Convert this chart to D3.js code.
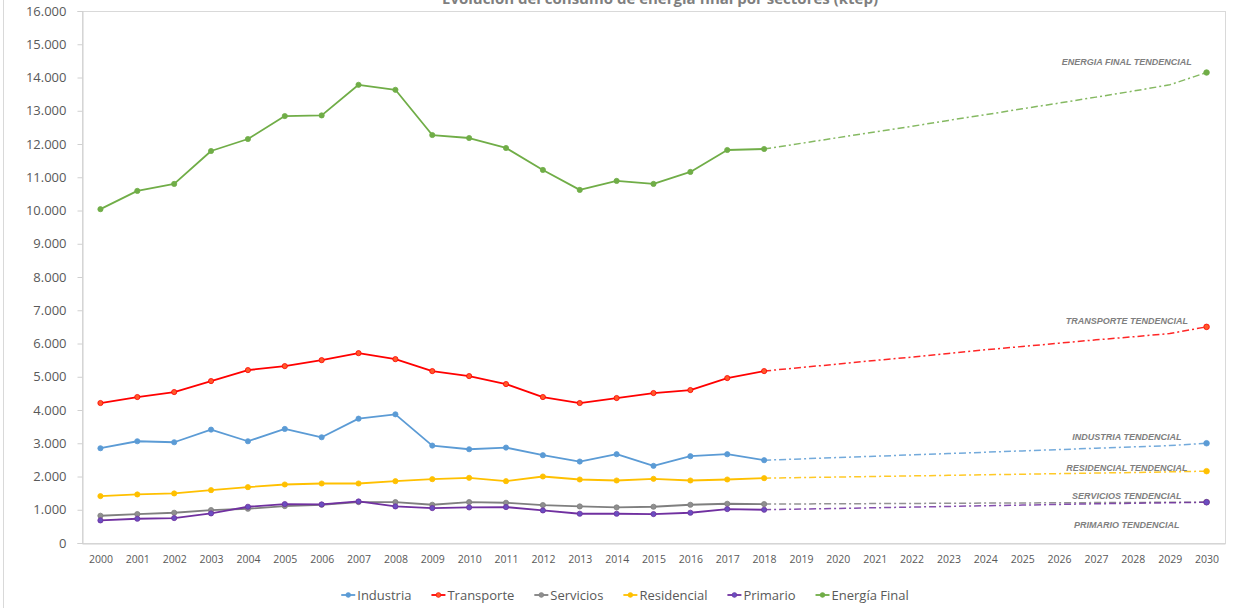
<!DOCTYPE html>
<html>
<head>
<meta charset="utf-8">
<script src="https://cdn.jsdelivr.net/npm/d3@7"></script>
<style>
  html, body { margin: 0; padding: 0; background: #fff; }
  svg { display: block; font-family: "Open Sans", "Liberation Sans", sans-serif; }
</style>
</head>
<body>
<svg id="chart" width="1237" height="608"></svg>
<script>
// Years on the category axis: history 2000-2018, projection 2019-2030
const years = d3.range(2000, 2031).map(String);
const histYears = d3.range(2000, 2019).map(String);
const trendYears = d3.range(2018, 2031).map(String);

// Historical final energy consumption by sector (ktep), 2000-2018
const industria   = [2850, 3060, 3030, 3410, 3060, 3430, 3180, 3740, 3870, 2930, 2820, 2870, 2640, 2450, 2670, 2320, 2610, 2670, 2490];
const transporte  = [4210, 4390, 4540, 4870, 5200, 5320, 5500, 5710, 5530, 5170, 5020, 4780, 4390, 4210, 4360, 4510, 4600, 4960, 5170];
const servicios   = [820, 870, 910, 990, 1030, 1110, 1150, 1230, 1230, 1150, 1230, 1210, 1140, 1100, 1070, 1090, 1150, 1180, 1170];
const residencial = [1410, 1460, 1490, 1590, 1680, 1760, 1790, 1790, 1860, 1920, 1960, 1860, 2000, 1910, 1880, 1930, 1880, 1910, 1950];
const primario    = [680, 730, 750, 890, 1090, 1170, 1160, 1250, 1100, 1050, 1070, 1080, 980, 880, 880, 870, 910, 1020, 1000];
const energiaFinal = [10040, 10590, 10800, 11790, 12150, 12840, 12860, 13780, 13630, 12270, 12180, 11880, 11220, 10620, 10890, 10800, 11160, 11820, 11850];

// Trend projections (ktep), 2018-2030
const industriaTend   = [2490, 2530, 2570, 2610, 2650, 2690, 2730, 2770, 2810, 2850, 2890, 2930, 3000];
const transporteTend  = [5170, 5280, 5380, 5490, 5590, 5700, 5810, 5910, 6010, 6110, 6200, 6300, 6500];
const serviciosTend   = [1170, 1175, 1180, 1185, 1190, 1195, 1200, 1205, 1210, 1215, 1220, 1225, 1230];
const residencialTend = [1950, 1967, 1984, 2001, 2018, 2035, 2052, 2069, 2086, 2103, 2120, 2140, 2160];
const primarioTend    = [1000, 1020, 1040, 1060, 1080, 1100, 1120, 1140, 1160, 1180, 1195, 1210, 1225];
const energiaFinalTend = [11850, 12020, 12190, 12360, 12530, 12710, 12880, 13060, 13230, 13410, 13590, 13780, 14150];

const yTicks = d3.range(0, 16001, 1000);
const title = "Evolución del consumo de energía final por sectores (ktep)";

const series = [
  { name: "Industria",    values: industria,    trend: industriaTend,    label: "INDUSTRIA TENDENCIAL",     color: "#5b9bd5", marker: "#5b9bd5" },
  { name: "Transporte",   values: transporte,   trend: transporteTend,   label: "TRANSPORTE TENDENCIAL",    color: "#ff0000", marker: "#ff5a2a" },
  { name: "Servicios",    values: servicios,    trend: serviciosTend,    label: "SERVICIOS TENDENCIAL",     color: "#7f7f7f", marker: "#8f8f8f" },
  { name: "Residencial",  values: residencial,  trend: residencialTend,  label: "RESIDENCIAL TENDENCIAL",   color: "#ffc000", marker: "#ffc000" },
  { name: "Primario",     values: primario,     trend: primarioTend,     label: "PRIMARIO TENDENCIAL",      color: "#7030a0", marker: "#6a4fc0" },
  { name: "Energía Final", values: energiaFinal, trend: energiaFinalTend, label: "ENERGIA FINAL TENDENCIAL", color: "#70ad47", marker: "#70ad47" }
];

// Vertical nudge of each trend label relative to its 2030 value (px)
const labelNudge = { "Industria": -3, "Transporte": -3, "Servicios": -3, "Residencial": 0, "Primario": 26, "Energía Final": -8 };

const svg = d3.select("#chart");
const W = 1237, H = 608;
const plot = { left: 82, right: 1225, top: 11, bottom: 543 };

const x = d3.scalePoint().domain(years).range([plot.left, plot.right]).padding(0.5);
const y = d3.scaleLinear().domain([0, 16000]).range([plot.bottom, plot.top]);

const loc = d3.formatLocale({ decimal: ",", thousands: ".", grouping: [3], currency: ["", " €"] });
const fmt = loc.format(",");

// Outer chart frame edge
svg.append("line").attr("x1", 3.5).attr("x2", 3.5).attr("y1", 0).attr("y2", H)
  .attr("stroke", "#d9d9d9").attr("stroke-width", 1);

// Title (sits mostly above the visible area)
svg.append("text").attr("x", 660).attr("y", 4)
  .attr("text-anchor", "middle").attr("font-size", 15).attr("font-weight", "bold")
  .attr("fill", "#7f7f7f").text(title);

// Plot area border
svg.append("rect")
  .attr("x", plot.left + 0.5).attr("y", plot.top + 0.5)
  .attr("width", plot.right - plot.left).attr("height", plot.bottom - plot.top)
  .attr("fill", "none").attr("stroke", "#d9d9d9");

// Y axis
const yAxis = svg.append("g").attr("transform", `translate(${plot.left + 0.5},0)`)
  .call(d3.axisLeft(y).tickValues(yTicks).tickFormat(fmt).tickSize(5).tickPadding(11));
yAxis.select(".domain").attr("stroke", "#d0d0d0");
yAxis.selectAll(".tick line").attr("stroke", "#d0d0d0");
yAxis.selectAll("text").attr("font-size", 13).attr("fill", "#595959")
  .attr("font-family", "'Open Sans', sans-serif");

// X axis
const xAxis = svg.append("g").attr("transform", `translate(0,${plot.bottom + 0.5})`)
  .call(d3.axisBottom(x).tickSize(0).tickPadding(12));
xAxis.select(".domain").attr("stroke", "#d0d0d0");
xAxis.selectAll("text").attr("font-size", 10.5).attr("fill", "#595959")
  .attr("font-family", "'Open Sans', sans-serif");

const line = d3.line().x(d => x(d.year)).y(d => y(d.v));

// Trend projections first so historical lines sit on top
series.forEach(s => {
  const pts = trendYears.map((yr, i) => ({ year: yr, v: s.trend[i] }));
  svg.append("path").datum(pts).attr("d", line)
    .attr("fill", "none").attr("stroke", s.color).attr("stroke-width", 1.5)
    .attr("stroke-dasharray", "7,3,2,3").attr("opacity", 0.85);
  const last = pts[pts.length - 1];
  svg.append("circle").attr("cx", x(last.year)).attr("cy", y(last.v)).attr("r", 2.8)
    .attr("fill", s.marker).attr("stroke", s.color).attr("stroke-width", 0.8);
});

// Historical series
series.forEach(s => {
  const pts = histYears.map((yr, i) => ({ year: yr, v: s.values[i] }));
  svg.append("path").datum(pts).attr("d", line)
    .attr("fill", "none").attr("stroke", s.color).attr("stroke-width", 1.8)
    .attr("stroke-linejoin", "round");
  svg.append("g").selectAll("circle").data(pts).join("circle")
    .attr("cx", d => x(d.year)).attr("cy", d => y(d.v)).attr("r", 2.6)
    .attr("fill", s.marker).attr("stroke", s.color).attr("stroke-width", 0.8);
});

// Trend labels
series.forEach(s => {
  const v = s.trend[s.trend.length - 1];
  svg.append("text")
    .attr("x", x("2028") - 6).attr("y", y(v) + labelNudge[s.name])
    .attr("text-anchor", "middle")
    .attr("font-family", "'Liberation Sans', Arial, sans-serif")
    .attr("font-size", 9).attr("font-weight", "bold").attr("font-style", "italic")
    .attr("fill", "#7f7f7f").text(s.label);
});

// Legend
const legend = svg.append("g");
let cx = 0;
series.forEach(s => {
  const g = legend.append("g").attr("transform", `translate(${cx},0)`);
  g.append("line").attr("x1", 0).attr("x2", 14).attr("y1", 0).attr("y2", 0)
    .attr("stroke", s.color).attr("stroke-width", 1.8);
  g.append("circle").attr("cx", 7).attr("cy", 0).attr("r", 2.4)
    .attr("fill", s.marker).attr("stroke", s.color).attr("stroke-width", 0.6);
  const t = g.append("text").attr("x", 16).attr("y", 0).attr("dy", "0.35em")
    .attr("font-size", 13).attr("fill", "#595959").text(s.name);
  cx += 16 + t.node().getComputedTextLength() + 20;
});
const legendW = cx - 20;
legend.attr("transform", `translate(${625 - legendW / 2},595)`);
</script>
</body>
</html>
